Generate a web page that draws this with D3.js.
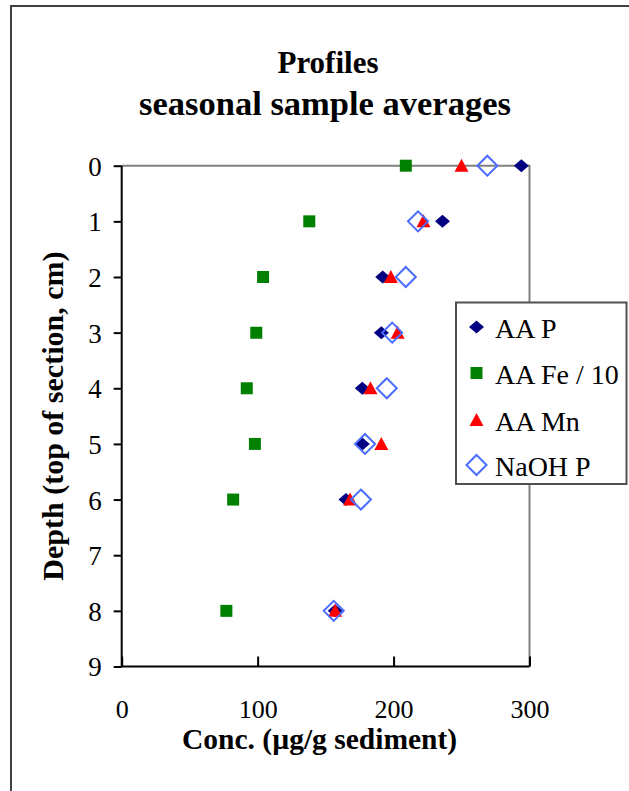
<!DOCTYPE html>
<html>
<head>
<meta charset="utf-8">
<script src="https://cdn.jsdelivr.net/npm/d3@7"></script>
<style>
  html, body { margin: 0; padding: 0; background: #fff; }
  svg { display: block; }
  text { font-family: "Liberation Serif", "Times New Roman", serif; fill: #000; }
</style>
</head>
<body>
<script>
// ---- Data ----
const depths   = [0, 1, 2, 3, 4, 5, 6, 8];
const aaP      = [294, 236, 192, 191, 177, 177, 165, 157];
const aaFe10   = [209, 138, 104, 99, 92, 98, 82, 77];
const aaMn     = [250, 222, 198, 203, 183, 191, 168, 157];
const naohP    = [269, 218, 209, 199, 195, 179, 176, 156];
const seriesNames = ["AA P", "AA Fe / 10", "AA Mn", "NaOH P"];
const xTicks = [0, 100, 200, 300];
const yTicks = [0, 1, 2, 3, 4, 5, 6, 7, 8, 9];
const titleLines = ["Profiles", "seasonal sample averages"];
const xTitle = "Conc. (\u00B5g/g sediment)";
const yTitle = "Depth (top of section, cm)";

// ---- Layout ----
const W = 629, H = 791;
const plot = { left: 121.7, right: 529.5, top: 165.7, bottom: 666.5 };

const svg = d3.select("body").append("svg").attr("width", W).attr("height", H);

// outer frame
svg.append("rect").attr("x", 11).attr("y", 6).attr("width", W + 20).attr("height", H + 20)
  .attr("fill", "none").attr("stroke", "#404040").attr("stroke-width", 2);

const x = d3.scaleLinear().domain([0, 300]).range([plot.left, plot.right]);
const y = d3.scaleLinear().domain([0, 9]).range([plot.top, plot.bottom]);

// title
svg.append("g").selectAll("text").data(titleLines).join("text")
  .attr("x", (d, i) => i === 0 ? 328 : 325).attr("y", (d, i) => i === 0 ? 72.5 : 115)
  .attr("text-anchor", "middle").attr("font-weight", "bold")
  .attr("font-size", (d, i) => i === 0 ? 31 : 34.5)
  .text(d => d);

// plot border (gray top & right)
svg.append("path")
  .attr("d", `M${plot.left},${plot.top}H${plot.right}V${plot.bottom}`)
  .attr("fill", "none").attr("stroke", "#808080").attr("stroke-width", 2);

// x axis (bottom), ticks inside
const xAxis = d3.axisBottom(x).tickValues(xTicks).tickSize(-10).tickPadding(0).tickFormat(d3.format("d"));
const gx = svg.append("g").attr("transform", `translate(0,${plot.bottom})`).call(xAxis);
gx.attr("font-family", null);
gx.select(".domain").attr("stroke", "#000").attr("stroke-width", 2).attr("d", `M${plot.left},0H${plot.right}`);
gx.selectAll(".tick line").attr("stroke", "#000").attr("stroke-width", 2);
gx.selectAll(".tick text").attr("font-size", 26).attr("font-family", "Liberation Serif, serif")
  .attr("y", 51.5).attr("dy", 0).attr("fill", "#000");

// y axis (left), ticks outside
const yAxis = d3.axisLeft(y).tickValues(yTicks).tickSize(8).tickPadding(12).tickFormat(d3.format("d"));
const gy = svg.append("g").attr("transform", `translate(${plot.left},0)`).call(yAxis);
gy.attr("font-family", null);
gy.select(".domain").attr("stroke", "#000").attr("stroke-width", 2).attr("d", `M0,${plot.top}V${plot.bottom}`);
gy.selectAll(".tick line").attr("stroke", "#000").attr("stroke-width", 2);
gy.selectAll(".tick text").attr("font-size", 27).attr("font-family", "Liberation Serif, serif")
  .attr("dy", "0.35em").attr("fill", "#000");

// axis titles
svg.append("text").attr("x", (plot.left + plot.right) / 2 - 6).attr("y", 749)
  .attr("text-anchor", "middle").attr("font-weight", "bold").attr("font-size", 29.5).text(xTitle);
svg.append("text").attr("transform", `translate(63,${(plot.top + plot.bottom) / 2}) rotate(-90)`)
  .attr("text-anchor", "middle").attr("font-weight", "bold").attr("font-size", 30).text(yTitle);

// marker shapes
const shapes = {
  diamondFilled: (cx, cy) => `M${cx},${cy - 6.5}L${cx + 7.5},${cy}L${cx},${cy + 6.5}L${cx - 7.5},${cy}Z`,
  square: (cx, cy) => `M${cx - 6},${cy - 6}h12v12h-12Z`,
  triangle: (cx, cy) => `M${cx},${cy - 7}L${cx + 7},${cy + 6}L${cx - 7},${cy + 6}Z`,
  diamondOpen: (cx, cy) => `M${cx},${cy - 10}L${cx + 10},${cy}L${cx},${cy + 10}L${cx - 10},${cy}Z`
};
const series = [
  { name: seriesNames[0], values: aaP,    shape: "diamondFilled", fill: "#000080", stroke: "none" },
  { name: seriesNames[1], values: aaFe10, shape: "square",        fill: "#008000", stroke: "none" },
  { name: seriesNames[2], values: aaMn,   shape: "triangle",      fill: "#FF0000", stroke: "none" },
  { name: seriesNames[3], values: naohP,  shape: "diamondOpen",   fill: "none",    stroke: "#4a6cff" }
];

series.forEach(s => {
  svg.append("g").selectAll("path").data(s.values).join("path")
    .attr("d", (v, i) => shapes[s.shape](x(v), y(depths[i])))
    .attr("fill", s.fill).attr("stroke", s.stroke).attr("stroke-width", 2);
});

// legend
const lg = svg.append("g");
lg.append("rect").attr("x", 456).attr("y", 302.5).attr("width", 170.5).attr("height", 181.5)
  .attr("fill", "#fff").attr("stroke", "#505050").attr("stroke-width", 2);
const legY = [327, 373, 420, 465];
series.forEach((s, i) => {
  lg.append("path").attr("d", shapes[s.shape](476.5, legY[i]))
    .attr("fill", s.fill).attr("stroke", s.stroke).attr("stroke-width", 2);
  lg.append("text").attr("x", 495).attr("y", legY[i] + 10.5).attr("font-size", 28).text(s.name);
});
</script>
</body>
</html>
